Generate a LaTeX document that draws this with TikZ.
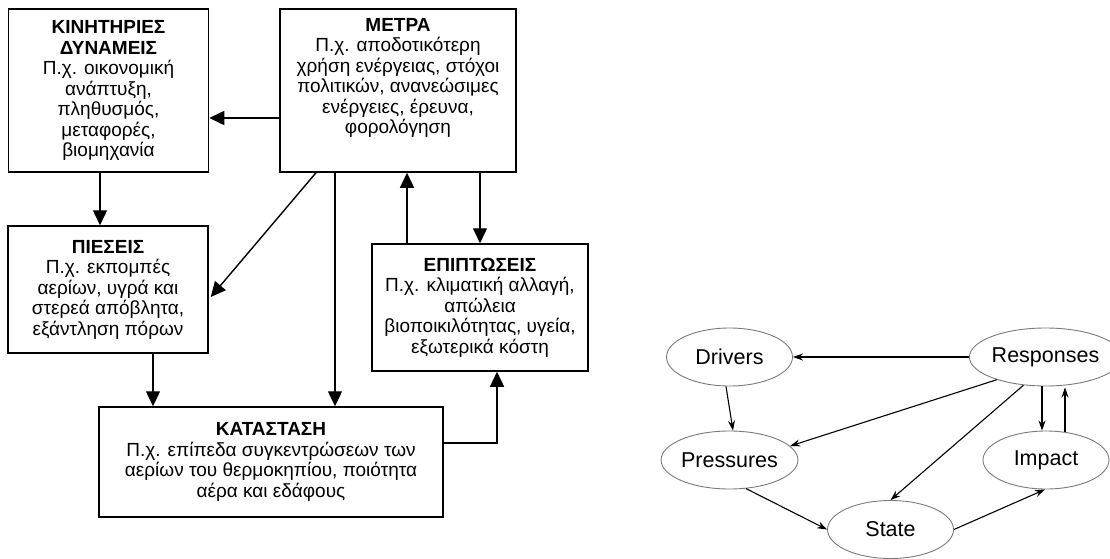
\documentclass[tikz,border=0pt]{standalone}
\usepackage{fontspec}
\setmainfont{Liberation Sans}
\usetikzlibrary{arrows.meta,shapes.geometric,calc}
\definecolor{rimgray}{HTML}{7A7A7A}

\begin{document}
\begin{tikzpicture}[x=1pt, y=-1pt, font=\fontsize{19}{20.5}\selectfont,
    box/.style={draw, line width=1.5pt, align=center, inner sep=0pt},
    flow/.style={-{Triangle[length=15pt,width=14pt]}, line width=1.4pt},
    oval/.style={ellipse, draw=rimgray, line width=0.9pt, minimum width=126pt, minimum height=58pt,
                 inner sep=0pt, font=\fontsize{21.5}{24}\selectfont},
    link/.style={-{Stealth[length=10pt,width=7pt]}, line width=1.1pt}]
        \useasboundingbox (0,0) rectangle (1110,559);
        % left: greek boxes
        \node[box, minimum width=200pt, minimum height=163pt] (kinh) at (108.5,90.5)
            {\textbf{ΚΙΝΗΤΗΡΙΕΣ}\\\textbf{ΔΥΝΑΜΕΙΣ}\\Π.χ. οικονομική\\ανάπτυξη,\\πληθυσμός,\\μεταφορές,\\βιομηχανία};
        \node[box, minimum width=236pt, minimum height=163pt] (metra) at (398,90.5) {};
        \node[align=center, inner sep=0pt] (metratxt) at (398,78)
            {\textbf{ΜΕΤΡΑ}\\Π.χ. αποδοτικότερη\\χρήση ενέργειας, στόχοι\\πολιτικών, ανανεώσιμες\\ενέργειες, έρευνα,\\φορολόγηση};
        \node[box, minimum width=200pt, minimum height=127pt] (pies) at (108,289.5)
            {\textbf{ΠΙΕΣΕΙΣ}\\Π.χ. εκπομπές\\αερίων, υγρά και\\στερεά απόβλητα,\\εξάντληση πόρων};
        \node[box, minimum width=216pt, minimum height=127pt] (epip) at (480,307.5)
            {\textbf{ΕΠΙΠΤΩΣΕΙΣ}\\Π.χ. κλιματική αλλαγή,\\απώλεια\\βιοποικιλότητας, υγεία,\\εξωτερικά κόστη};
        \node[box, minimum width=344pt, minimum height=110pt] (kata) at (271,462)
            {\textbf{ΚΑΤΑΣΤΑΣΗ}\\Π.χ. επίπεδα συγκεντρώσεων των\\αερίων του θερμοκηπίου, ποιότητα\\αέρα και εδάφους};
        \draw[flow] ($(metra.west)+(0,27.5)$) -- ($(kinh.east)+(0,27.5)$);
        \draw[flow] ($(kinh.south)+(-8.5,0)$) -- ($(pies.north)+(-8,0)$);
        \draw[flow] ($(metra.south)+(-82,0)$) -- ($(pies.east)+(2,7.5)$);
        \draw[flow] ($(metra.south)+(-63,0)$) -- ($(kata.north)+(64,0)$);
        \draw[flow] ($(epip.north)+(-73,0)$) -- ($(metra.south)+(9,0)$);
        \draw[flow] ($(metra.south)+(82,0)$) -- (epip.north);
        \draw[flow] ($(pies.south)+(45,0)$) -- ($(kata.north)+(-118,0)$);
        \draw[flow] ($(kata.east)+(0,-19)$) -| ($(epip.south)+(17,0)$);
        % right: DPSIR ovals
        \node[oval] (drivers) at (729.5,357) {Drivers};
        \node[oval] (resp)    at (1045.5,357) {Responses};
        \node[oval] (press)   at (729.5,460) {Pressures};
        \node[oval] (impact)  at (1046,460) {Impact};
        \node[oval] (state)   at (890.5,529.5) {State};
        \draw[link] (resp.west) -- (drivers.east);
        \draw[link] ($(drivers.south)+(-3.5,0)$) -- ($(press.north)+(3.5,0)$);
        \draw[link] (resp.205) -- (press.13);
        \draw[link] (resp.232) -- (state.north);
        \draw[link] ($(resp.south)+(-3.5,0)$) -- ($(impact.north)+(-4,0)$);
        \draw[link] ($(impact.north)+(19,1)$) -- ($(resp.south)+(19.5,1)$);
        \draw[link] (press.300) -- (state.west);
        \draw[link] (state.east) -- ($(impact.south)+(-1,0)$);
    \end{tikzpicture}
\end{document}
